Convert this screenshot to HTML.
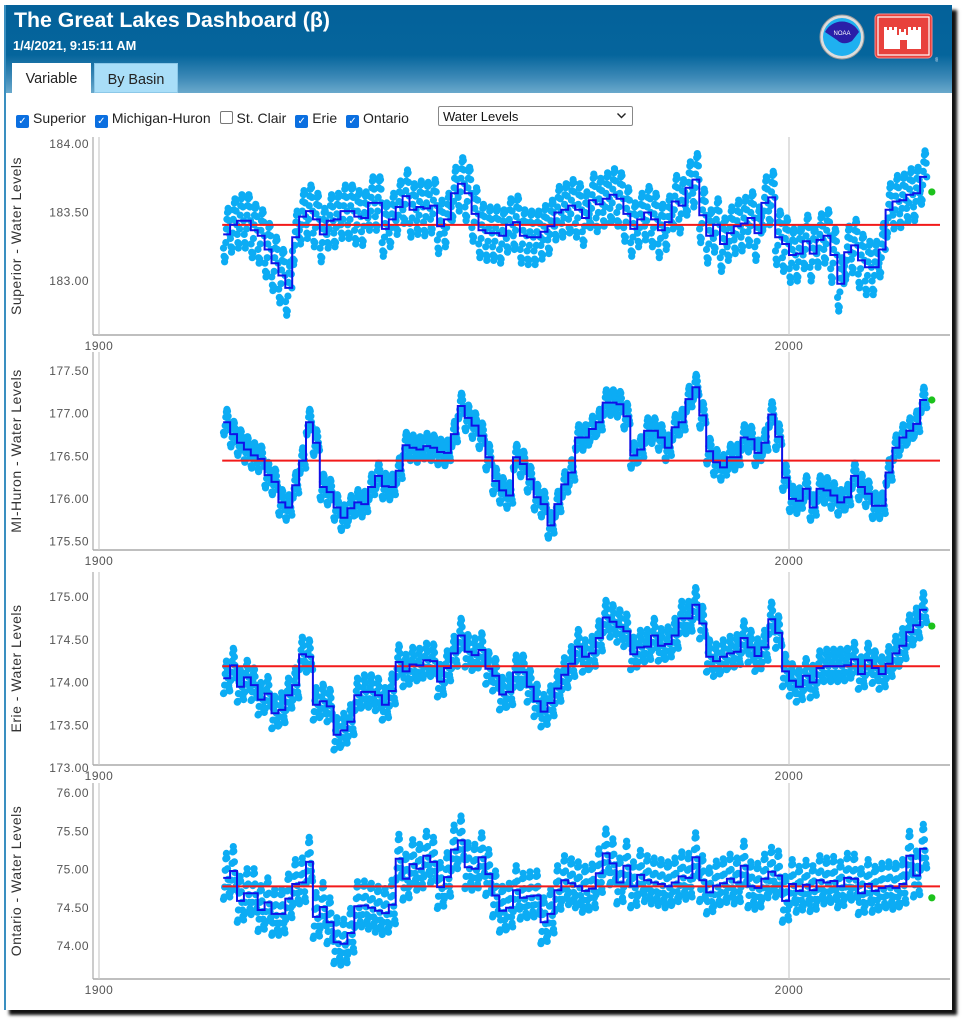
<!DOCTYPE html>
<html><head><meta charset="utf-8">
<style>
html,body{margin:0;padding:0;background:#fff;width:968px;height:1024px;overflow:hidden;font-family:"Liberation Sans",Arial,sans-serif}
#frame{position:absolute;left:4px;top:5px;width:946px;height:1005px;background:#fff;box-shadow:5px 5px 3px #111;border-left:2px solid #3a8fc0}
#hdr{position:absolute;left:0;top:0;width:946px;height:88px;background:linear-gradient(#04619a 0px,#05659c 50px,#3b88b6 72px,#6aa9cc 88px)}
#title{position:absolute;left:8px;top:3px;color:#fff;font-weight:bold;font-size:21.3px}
#date{position:absolute;left:7px;top:33px;color:#fff;font-weight:bold;font-size:12.8px}
.tab{position:absolute;top:58px;height:30px;font-size:14.4px;line-height:32px;text-align:center;box-sizing:border-box}
#tab1{left:6px;width:79px;background:#fff;color:#222}
#tab2{left:88px;width:84px;background:#a9def8;color:#222;border:1px solid #8cc8e8}
#checks{position:absolute;left:10px;top:103px;font-size:14px;color:#222;height:20px;white-space:nowrap;line-height:20px}
#checks span{display:inline-block;margin-right:5px}
.cb{display:inline-block;width:13px;height:13px;border-radius:2px;vertical-align:-1px;margin-right:4px;box-sizing:border-box;color:#fff;font-size:10px;line-height:13px;text-align:center;font-style:normal}
.on{background:#0b6fe0}
.off{border:1px solid #777;background:#fff}
#sel{position:absolute;left:432px;top:101px;width:195px;height:20px;border:1px solid #888;border-radius:2px;font-size:13px;line-height:19px;box-sizing:border-box;padding-left:4px;color:#111;background:#fff}
#chart{position:absolute;left:0;top:0}
</style></head><body>
<div id="frame">
 <div id="hdr">
  <div id="title">The Great Lakes Dashboard (β)</div>
  <div id="date">1/4/2021, 9:15:11 AM</div>
  <svg style="position:absolute;left:813px;top:9px" width="46" height="46">
   <circle cx="23" cy="23" r="22" fill="#ddd" stroke="#999"/>
   <circle cx="23" cy="23" r="19" fill="#1fb0f0"/>
   <path d="M6,18 A19,19 0 0 1 40,18 L33,27 Q24,32 18,26 Z" fill="#2a1fa8"/>
   <text x="23" y="21" font-size="6" fill="#fff" text-anchor="middle" font-family="Liberation Sans">NOAA</text>
  </svg>
  <svg style="position:absolute;left:868px;top:8px" width="64" height="50">
   <rect x="1" y="1" width="57" height="44" rx="4" fill="#e8413c" stroke="#f88" />
   <rect x="4" y="4" width="51" height="38" fill="none" stroke="#fff" stroke-width="1.2"/>
   <path d="M10,36 V14 h3 v3 h2 v-3 h3 v3 h2 v-3 h3 V22 h2 v-6 h2 v3 h3 v-3 h2 v6 h2 V14 h3 v3 h2 v-3 h3 v3 h2 v-3 h3 v22 Z" fill="#fff"/>
   <rect x="26" y="27" width="7" height="9" fill="#e8413c"/>
   <text x="61" y="49" font-size="6" fill="#cde" font-family="Liberation Sans">®</text>
  </svg>
  <div class="tab" id="tab1">Variable</div>
  <div class="tab" id="tab2">By Basin</div>
 </div>
 <div id="checks">
  <span><i class="cb on">✓</i>Superior</span>
  <span><i class="cb on">✓</i>Michigan-Huron</span>
  <span><i class="cb off"></i>St. Clair</span>
  <span><i class="cb on">✓</i>Erie</span>
  <span><i class="cb on">✓</i>Ontario</span>
 </div>
 <div id="sel">Water Levels<svg style="position:absolute;right:6px;top:6px" width="9" height="6"><path d="M0.5,0.5 L4.5,4.5 L8.5,0.5" fill="none" stroke="#222" stroke-width="1.4"/></svg></div>
</div>
<svg id="chart" width="968" height="1024"></svg>
<script>
const startYear = 1918;
const superiorAnnual = [183.34,183.41,183.44,183.44,183.37,183.33,183.23,183.13,183.04,182.95,183.32,183.47,183.51,183.45,183.34,183.44,183.45,183.51,183.51,183.47,183.46,183.57,183.57,183.38,183.45,183.54,183.62,183.52,183.54,183.53,183.55,183.40,183.45,183.64,183.71,183.64,183.49,183.37,183.35,183.35,183.33,183.41,183.43,183.33,183.32,183.32,183.36,183.40,183.50,183.52,183.55,183.52,
183.46,183.59,183.56,183.60,183.63,183.60,183.49,183.38,183.45,183.50,183.45,183.37,183.43,183.58,183.55,183.68,183.74,183.48,183.33,183.41,183.27,183.35,183.40,183.42,183.46,183.35,183.57,183.61,183.32,183.27,
183.19,183.20,183.29,183.20,183.30,183.33,183.19,182.98,183.21,183.26,183.15,183.10,183.10,183.23,183.52,183.58,183.59,183.63,183.64,183.76];
const mihuronAnnual = [176.90,176.76,176.66,176.58,176.51,176.47,176.28,176.20,175.96,175.90,176.16,176.45,176.90,176.66,176.14,176.08,175.90,175.78,175.89,175.96,175.94,176.14,176.27,176.15,176.14,176.33,176.63,176.60,176.58,176.62,176.60,176.55,176.54,176.76,177.09,176.95,176.86,176.74,176.49,176.21,176.10,176.04,176.49,176.41,176.23,176.02,175.94,175.69,175.94,176.17,176.31,
176.72,176.72,176.82,176.90,177.13,177.13,177.11,176.97,176.51,176.58,176.80,176.80,176.72,176.60,176.84,176.90,177.17,177.31,176.98,176.56,176.43,176.37,176.49,176.49,176.72,176.70,176.54,176.66,176.99,176.73,176.25,
176.00,175.98,176.12,175.90,176.12,176.10,176.04,175.96,176.02,176.27,176.14,176.06,175.92,175.92,176.31,176.60,176.72,176.80,176.88,177.16];
const erieAnnual = [174.05,174.20,173.95,174.06,173.97,173.80,173.87,173.64,173.68,173.85,173.97,174.33,174.30,173.74,173.78,173.72,173.39,173.44,173.54,173.85,173.89,173.89,173.85,173.74,173.90,174.24,174.13,174.21,174.20,174.26,174.25,174.01,174.17,174.34,174.55,174.36,174.32,174.38,174.16,174.08,173.86,173.89,174.12,174.12,173.95,173.78,173.66,173.76,173.93,174.09,174.22,
174.42,174.30,174.34,174.52,174.76,174.71,174.65,174.60,174.33,174.41,174.42,174.55,174.43,174.45,174.55,174.75,174.75,174.91,174.69,174.30,174.25,174.30,174.34,174.36,174.52,174.41,174.31,174.41,174.74,174.58,174.13,
174.02,173.95,174.08,174.00,174.17,174.19,174.19,174.19,174.20,174.27,174.10,174.26,174.17,174.10,174.22,174.34,174.43,174.59,174.67,174.85];
const ontarioAnnual = [74.89,74.98,74.59,74.69,74.69,74.47,74.57,74.42,74.42,74.62,74.81,74.83,75.10,74.38,74.51,74.31,74.05,74.03,74.17,74.52,74.53,74.50,74.46,74.43,74.54,75.14,74.88,75.07,75.01,75.18,75.10,74.77,74.90,75.26,75.38,75.03,75.01,75.16,74.94,74.66,74.46,74.50,74.73,74.63,74.65,74.66,74.31,74.42,74.73,74.86,74.82,
74.78,74.72,74.75,74.95,75.21,75.08,74.83,75.05,74.78,74.93,74.86,74.83,74.81,74.78,74.83,74.91,74.89,75.16,74.86,74.70,74.79,74.82,74.88,74.83,75.05,74.78,74.76,74.88,74.97,74.92,74.59,
74.81,74.72,74.80,74.73,74.86,74.83,74.85,74.78,74.89,74.88,74.69,74.81,74.72,74.76,74.78,74.76,74.81,75.18,74.92,75.27];
const superiorSeason = [-0.10,-0.16,-0.20,-0.17,-0.06,0.04,0.11,0.16,0.19,0.17,0.10,0.00];
const mihuronSeason = [-0.12,-0.15,-0.12,-0.04,0.06,0.12,0.15,0.13,0.07,0.00,-0.05,-0.09];
const erieSeason = [-0.18,-0.17,-0.08,0.05,0.14,0.20,0.18,0.10,0.00,-0.08,-0.12,-0.15];
const ontarioSeason = [-0.28,-0.25,-0.12,0.10,0.25,0.32,0.26,0.12,-0.02,-0.12,-0.20,-0.25];
const longTermMeans = [183.41,176.45,174.19,74.78];
const currentValues = [183.65,177.16,174.66,74.63];
const currentYear = 2020.7;
const superiorTicks = ["183.00","183.50","184.00"];
const mihuronTicks = ["175.50","176.00","176.50","177.00","177.50"];
const erieTicks = ["173.00","173.50","174.00","174.50","175.00"];
const ontarioTicks = ["74.00","74.50","75.00","75.50","76.00"];
const xTickLabels = ["1900","2000"];
const chartTitles = ["Superior - Water Levels","MI-Huron - Water Levels","Erie - Water Levels","Ontario - Water Levels"];

const NS="http://www.w3.org/2000/svg";
const svg=document.getElementById('chart');
function xScale(yr){return 99+(yr-1900)*6.9;}
const panels=[
 {key:'superior',annual:superiorAnnual,season:superiorSeason,ticks:superiorTicks,ref:184,refY:144,ppu:137,top:137,base:335},
 {key:'mihuron',annual:mihuronAnnual,season:mihuronSeason,ticks:mihuronTicks,ref:177.5,refY:371,ppu:85.3,top:352,base:550},
 {key:'erie',annual:erieAnnual,season:erieSeason,ticks:erieTicks,ref:175,refY:597,ppu:85.5,top:572,base:765},
 {key:'ontario',annual:ontarioAnnual,season:ontarioSeason,ticks:ontarioTicks,ref:76,refY:793,ppu:76.5,top:783,base:979}
];
function mk(tag,attrs,parent){const e=document.createElementNS(NS,tag);for(const k in attrs)e.setAttribute(k,attrs[k]);(parent||svg).appendChild(e);return e;}
panels.forEach((p,i)=>{
 const yScale=v=>p.refY+(p.ref-v)*p.ppu;
 const g=mk('g',{});
 
 
 const ax=mk('line',{x1:93,y1:p.top,x2:93,y2:p.base,stroke:'#999','stroke-width':1},g);
 
 
 const bl=mk('line',{x1:93,y1:p.base,x2:950,y2:p.base,stroke:'#aaa','stroke-width':1.5},g);
 
 
 [1900,2000].forEach((yr,j)=>{
  const gl=mk('line',{x1:xScale(yr),y1:p.top,x2:xScale(yr),y2:p.base,stroke:'#ccc','stroke-width':1.2},g);
  
  
  const t=mk('text',{x:xScale(yr),y:p.base+15,'font-size':12,'letter-spacing':0.5,fill:'#555','text-anchor':'middle','font-family':'Liberation Sans, sans-serif'},g);
  t.textContent=xTickLabels[j];
  
  
 });
 p.ticks.forEach(tk=>{
  const t=mk('text',{x:89,y:yScale(parseFloat(tk))+4,'font-size':12,'letter-spacing':0.5,fill:'#555','text-anchor':'end','font-family':'Liberation Sans, sans-serif'},g);
  t.textContent=tk;
  
  
 });
 const cy=(p.top+p.base)/2;
 const tt=mk('text',{x:0,y:0,'font-size':14,'letter-spacing':0.5,fill:'#333','text-anchor':'middle','font-family':'Liberation Sans, sans-serif',transform:`translate(21,${cy}) rotate(-90)`},g);
 tt.textContent=chartTitles[i];
 
 
 const dg=mk('g',{fill:'#0cacf4'},g);
 
 
 p.annual.forEach((v,k)=>{
  p.season.forEach((s,m)=>{
   const c=mk('circle',{cx:xScale(startYear+k+(m+0.5)/12).toFixed(1),cy:yScale(v+s).toFixed(1),r:3.6},dg);
   
   
  });
 });
 const ml=mk('line',{x1:xScale(startYear)-1,y1:yScale(longTermMeans[i]),x2:940,y2:yScale(longTermMeans[i]),stroke:'#f21a1a','stroke-width':2},g);
 
 
 let d='';
 p.annual.forEach((v,k)=>{
  const x0=xScale(startYear+k),x1=xScale(startYear+k+1),y=yScale(v);
  d+=(k===0?'M':'L')+x0.toFixed(1)+','+y.toFixed(1)+'L'+x1.toFixed(1)+','+y.toFixed(1);
 });
 const sl=mk('path',{d:d,fill:'none',stroke:'#1010e8','stroke-width':2},g);
 
 
 const cur=mk('circle',{cx:xScale(currentYear),cy:yScale(currentValues[i]),r:3.6,fill:'#1cc21c'},g);
 
 
});
</script>
</body></html>
